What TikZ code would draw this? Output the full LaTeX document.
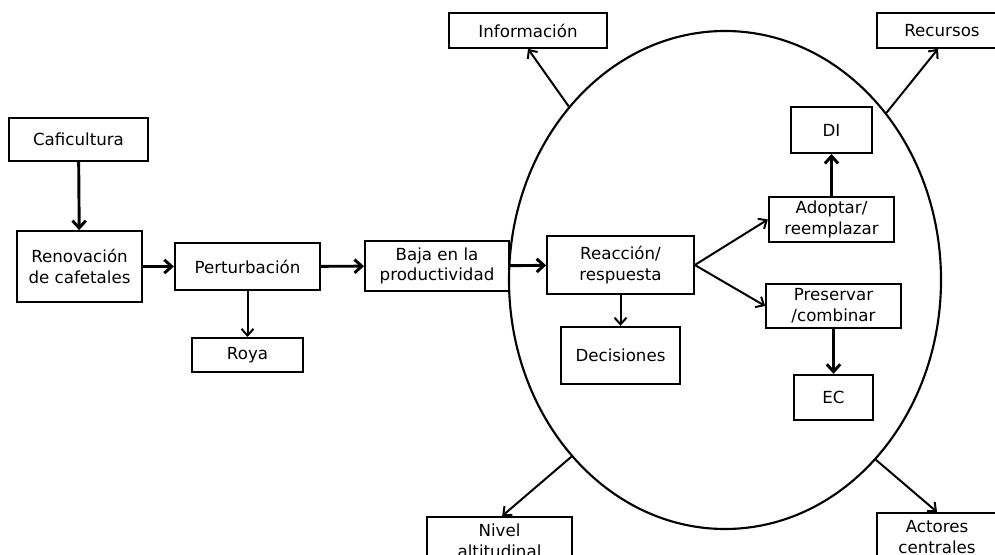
\documentclass[tikz,border=0pt]{standalone}
\usepackage{fontspec}
\setmainfont{DejaVu Sans}
\usetikzlibrary{arrows.meta,shapes.geometric}

\tikzset{
	box/.style={draw, line width=1.5pt, inner sep=1pt, align=center, font=\fontsize{12.5}{15.5}\selectfont},
	thick arrow/.style={line width=2.2pt, -{Straight Barb[length=5.5pt,width=10pt]}},
	thin arrow/.style={line width=1.5pt, -{Straight Barb[length=5pt,width=9pt]}}}
\tikzset{every picture/.style={line width=0.75pt}}

\begin{document}
\begin{tikzpicture}[x=0.75pt,y=0.75pt,yscale=-1,xscale=1]
	\useasboundingbox (0,0) rectangle (995,555);

	%Shape: Ellipse [id:ring]
	\node [draw, ellipse, line width=1.6pt, inner sep=0pt, minimum width=324pt, minimum height=373.5pt] (ring) at (725,280) {};

	% Text Node
	\node [box, minimum width=104pt, minimum height=32pt] (cafi) at (78.5,139.5) {Caficultura};
	% Text Node
	\node [box, minimum width=94pt, minimum height=53pt] (renov) at (79.5,266.5) {Renovación\\de cafetales};
	% Text Node
	\node [box, minimum width=109pt, minimum height=35pt] (pert) at (247.5,266.5) {Perturbación};
	% Text Node
	\node [box, minimum width=83pt, minimum height=25.5pt] (roya) at (247.5,355) {Roya};
	% Text Node
	\node [box, minimum width=108pt, minimum height=37.5pt] (baja) at (437,266) {Baja en la\\productividad};
	% Text Node
	\node [box, minimum width=110pt, minimum height=44pt] (reac) at (620.5,265) {Reacción/\\respuesta};
	% Text Node
	\node [box, minimum width=89pt, minimum height=43pt] (deci) at (620.5,355.5) {Decisiones};
	% Text Node
	\node [box, minimum width=61pt, minimum height=34.5pt] (di) at (831.5,130) {DI};
	% Text Node
	\node [box, minimum width=94pt, minimum height=34pt] (adop) at (831.5,219.5) {Adoptar/\\reemplazar};
	% Text Node
	\node [box, minimum width=101pt, minimum height=33pt] (pres) at (833.5,306) {Preservar\\/combinar};
	% Text Node
	\node [box, minimum width=59pt, minimum height=34pt] (ec) at (833.5,397.5) {EC};
	% Text Node
	\node [box, minimum width=118.5pt, minimum height=26pt] (info) at (528,30.5) {Información};
	% Text Node
	\node [box, minimum width=97.5pt, minimum height=26pt] (recu) at (942,30.5) {Recursos};
	% Text Node
	\node [box, minimum width=109pt, minimum height=36pt] (nivel) at (499.5,541) {Nivel\\altitudinal};
	% Text Node
	\node [box, minimum width=90pt, minimum height=36pt] (actores) at (937,537) {Actores\\centrales};

	%Straight Lines
	\draw [thick arrow] (cafi) -- (renov);
	\draw [thick arrow] (renov) -- (pert);
	\draw [thick arrow] (pert) -- (baja);
	\draw [thick arrow] (baja) -- (reac);
	\draw [thin arrow] (pert) -- (roya);
	\draw [thin arrow] (reac) -- (deci);
	\draw [thin arrow] (reac.east) -- (adop.west);
	\draw [thin arrow] (reac.east) -- (pres.west);
	\draw [thick arrow] (adop) -- (di);
	\draw [thick arrow] (pres) -- (ec);

	%Straight Lines
	\draw [thin arrow] (ring.132.8) -- (info.south);
	\draw [thin arrow] (ring.46.4) -- ([xshift=-3pt]recu.south);
	\draw [thin arrow] (ring.229.8) -- ([xshift=2pt]nivel.north);
	\draw [thin arrow] (ring.310.6) -- (actores.north);

\end{tikzpicture}
\end{document}
